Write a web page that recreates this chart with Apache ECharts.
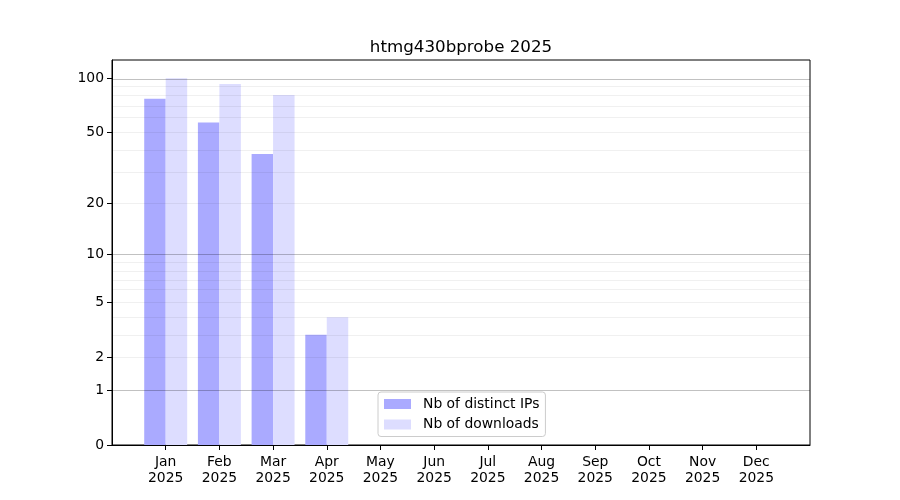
<!DOCTYPE html>
<html>
<head>
<meta charset="utf-8">
<script src="https://cdn.jsdelivr.net/npm/echarts@6/dist/echarts.min.js"></script>
<style>html,body{margin:0;padding:0;background:#fff}#c{width:900px;height:500px}</style>
</head>
<body>
<div id="c"></div>
<script>
const titleText = 'htmg430bprobe 2025';
const months = ['Jan','Feb','Mar','Apr','May','Jun','Jul','Aug','Sep','Oct','Nov','Dec'];
const yearLabel = '2025';
const distinctIPs = [77, 57, 38, 3];
const downloads = [100, 93, 81, 4];
const yTickValues = [0, 1, 2, 5, 10, 20, 50, 100];
const majorGrid = [1, 10, 100];
const minorGrid = [2, 3, 4, 5, 6, 7, 8, 9, 20, 30, 40, 50, 60, 70, 80, 90];
const seriesNames = ['Nb of distinct IPs', 'Nb of downloads'];

const t = v => Math.log10(v + 1);
const inv = y => Math.round(Math.pow(10, y) - 1);

const FONT = 'DejaVu Sans';
const gridLeft = 112, gridRight = 90, gridTop = 60, gridBottom = 55;
const plotW = 900 - gridLeft - gridRight;
const xMin = -1, xMax = 12;
const unitPx = plotW / (xMax - xMin);
const barW = unitPx * 0.4;

const chart = echarts.init(document.getElementById('c'), null, {renderer: 'canvas'});
const gridLines = majorGrid.map(v => ({yAxis: t(v), lineStyle: {color: 'rgba(0,0,0,0.31)', width: 0.8, type: 'solid'}}))
  .concat(minorGrid.map(v => ({yAxis: t(v), lineStyle: {color: 'rgba(0,0,0,0.08)', width: 0.8, type: 'solid'}})));

chart.setOption({
  animation: false,
  backgroundColor: '#fff',
  textStyle: {fontFamily: FONT},
  title: {
    text: titleText, left: gridLeft + plotW / 2, textAlign: 'center', top: 39, padding: 0,
    textStyle: {fontFamily: FONT, fontSize: 16.7, fontWeight: 'normal', color: '#000'}
  },
  legend: {
    orient: 'vertical', left: 378, top: 392,
    padding: [5, 6, 5, 6], itemGap: 6.5,
    itemWidth: 27, itemHeight: 10, icon: 'rect',
    backgroundColor: 'rgba(255,255,255,0.8)', borderColor: '#cccccc', borderWidth: 1, borderRadius: 3,
    textStyle: {fontFamily: FONT, fontSize: 13.9, color: '#000', lineHeight: 14, padding: [0, 0, 0, 7]},
    data: seriesNames
  },
  grid: {left: gridLeft, right: gridRight, top: gridTop, bottom: gridBottom, show: true, borderColor: '#000', borderWidth: 1, backgroundColor: 'transparent'},
  xAxis: {
    type: 'value', min: xMin, max: xMax,
    axisLine: {show: true, onZero: false, lineStyle: {color: '#000'}},
    axisTick: {show: true, customValues: months.map((m, i) => i), length: 5, lineStyle: {color: '#000'}},
    axisLabel: {
      customValues: months.map((m, i) => i), margin: 9,
      fontFamily: FONT, fontSize: 13.9, color: '#000', lineHeight: 16,
      formatter: v => months[Math.round(v)] + '\n' + yearLabel
    },
    splitLine: {show: false}
  },
  yAxis: {
    type: 'value', min: 0, max: t(100) * 1.05,
    axisLine: {show: true, onZero: false, lineStyle: {color: '#000'}},
    axisTick: {show: true, customValues: yTickValues.map(t), length: 5, lineStyle: {color: '#000'}},
    axisLabel: {
      customValues: yTickValues.map(t), margin: 8,
      fontFamily: FONT, fontSize: 13.9, color: '#000', padding: [2, 0, 0, 0],
      formatter: v => String(inv(v))
    },
    splitLine: {show: false}
  },
  series: [
    {
      name: seriesNames[0], type: 'bar', barWidth: barW, barGap: '-100%',
      itemStyle: {color: '#aaaaff'},
      data: distinctIPs.map((v, i) => [i - 0.2, t(v)]),
      markLine: {silent: true, symbol: 'none', label: {show: false}, animation: false, data: gridLines}
    },
    {
      name: seriesNames[1], type: 'bar', barWidth: barW, barGap: '-100%',
      itemStyle: {color: '#ddddff'},
      data: downloads.map((v, i) => [i + 0.2, t(v)])
    }
  ]
});
</script>
</body>
</html>
